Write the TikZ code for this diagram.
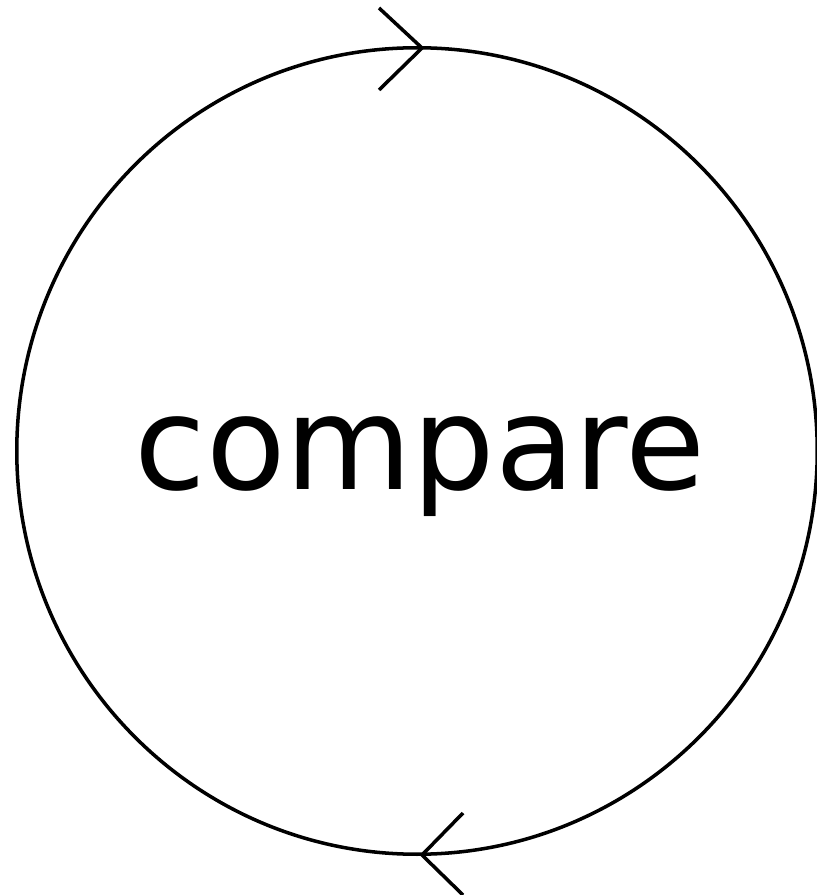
\documentclass[tikz,border=0pt]{standalone}
\usepackage{fontspec}
\setmainfont{DejaVu Sans}
\begin{document}
\begin{tikzpicture}[x=0.01cm,y=-0.01cm,
  ln/.style={line width=1.0pt,black},
  lbl/.style={font=\fontsize{37}{44}\selectfont,inner sep=0pt,anchor=base}]
\useasboundingbox (0,0) rectangle (816,895);
\coordinate (c) at (417,451);
\draw[ln] (c) ellipse [x radius=4.00cm, y radius=4.03cm];
\node[lbl] (t) at (420,490) {compare};
\coordinate (tt) at (422,48);
\coordinate (bt) at (422,855);
\draw[ln] (379,8) -- (tt) -- (379,90);
\draw[ln] (463,813) -- (bt) -- (463,895);
\end{tikzpicture}
\end{document}
